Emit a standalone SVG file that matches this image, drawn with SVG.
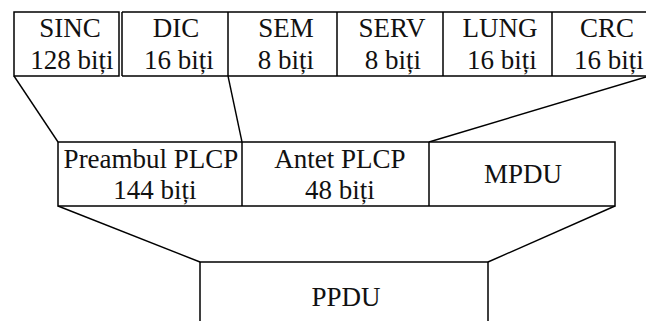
<svg xmlns="http://www.w3.org/2000/svg" width="646" height="321" viewBox="0 0 646 321">
  <style>
    .box { fill: #ffffff; stroke: #000000; stroke-width: 1.5; }
    .div { stroke: #000000; stroke-width: 1.5; fill: none; }
    .link { stroke: #000000; stroke-width: 1.4; fill: none; }
    text { font-family: 'Liberation Serif', 'Times New Roman', serif; font-size: 27px; fill: #111111; text-anchor: middle; }
  </style>
  <rect width="646" height="321" fill="#ffffff"/>

  <!-- connectors between the layers -->
  <g id="connectors">
    <line class="link" x1="14" y1="76" x2="58" y2="142"/>
    <line class="link" x1="228" y1="76" x2="242" y2="142"/>
    <line class="link" x1="646" y1="77" x2="429" y2="142"/>
    <line class="link" x1="58" y1="206" x2="200" y2="262"/>
    <line class="link" x1="615" y1="206" x2="488" y2="262"/>
  </g>

  <!-- PLCP header fields -->
  <g id="sinc">
    <rect class="box" x="14" y="12" width="105" height="64"/>
    <text x="70" y="37">SINC</text>
    <text x="72" y="69">128 biți</text>
  </g>
  <g id="header-fields">
    <path class="div" d="M122 12 H646 M122 76 H646 M122 12 V76"/>
  </g>
  <g id="dic">
    <line class="div" x1="228" y1="12" x2="228" y2="76"/>
    <text x="176" y="37">DIC</text>
    <text x="179" y="69">16 biți</text>
  </g>
  <g id="sem">
    <line class="div" x1="337" y1="12" x2="337" y2="76"/>
    <text x="286" y="37">SEM</text>
    <text x="286" y="69">8 biți</text>
  </g>
  <g id="serv">
    <line class="div" x1="443" y1="12" x2="443" y2="76"/>
    <text x="392" y="37">SERV</text>
    <text x="393" y="69">8 biți</text>
  </g>
  <g id="lung">
    <line class="div" x1="552" y1="12" x2="552" y2="76"/>
    <text x="500" y="37">LUNG</text>
    <text x="502" y="69">16 biți</text>
  </g>
  <g id="crc">
    <text x="607" y="37">CRC</text>
    <text x="609" y="69">16 biți</text>
  </g>

  <!-- PPDU frame fields -->
  <g id="ppdu-fields">
    <rect class="box" x="58" y="142" width="557" height="64"/>
  </g>
  <g id="preambul">
    <line class="div" x1="242" y1="142" x2="242" y2="206"/>
    <text x="151" y="168">Preambul PLCP</text>
    <text x="155" y="199">144 biți</text>
  </g>
  <g id="antet">
    <line class="div" x1="429" y1="142" x2="429" y2="206"/>
    <text x="340" y="168">Antet PLCP</text>
    <text x="340" y="199">48 biți</text>
  </g>
  <g id="mpdu">
    <text x="523" y="183">MPDU</text>
  </g>

  <!-- PPDU -->
  <g id="ppdu">
    <path class="div" d="M200 330 V262 H488 V330"/>
    <text x="346" y="306">PPDU</text>
  </g>
</svg>
